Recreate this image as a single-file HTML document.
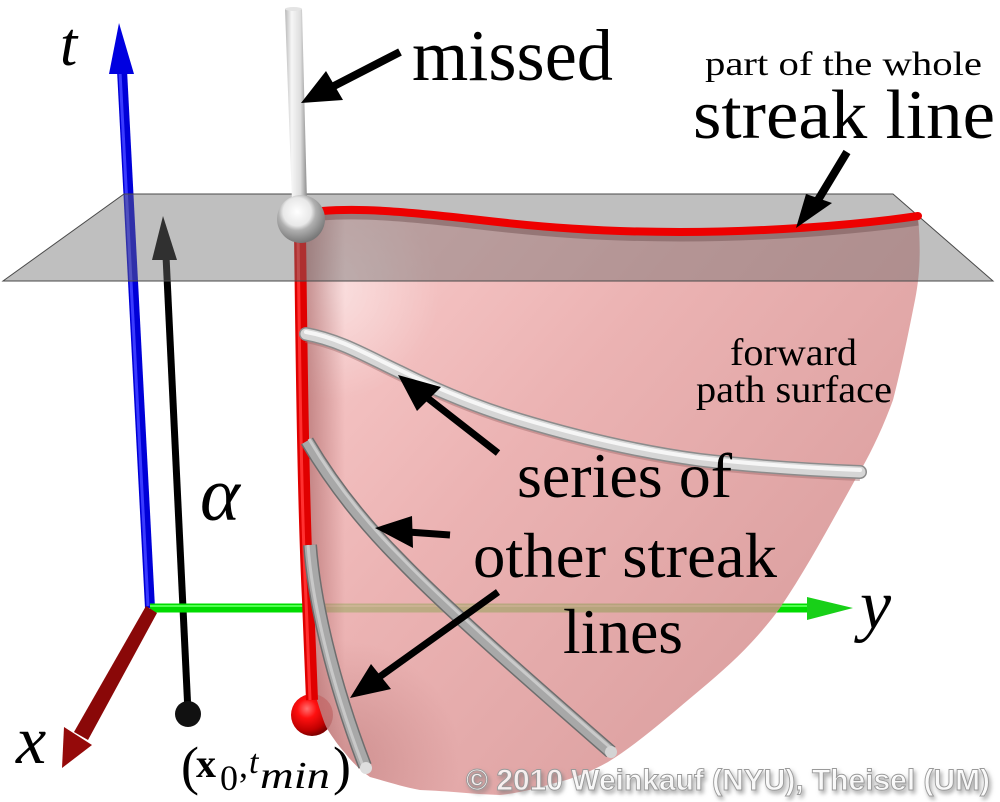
<!DOCTYPE html>
<html><head><meta charset="utf-8">
<style>
html,body{margin:0;padding:0;background:#fff;}
svg{display:block;}
</style></head><body>
<svg width="1000" height="802" viewBox="0 0 1000 802" xmlns="http://www.w3.org/2000/svg">
<defs>
 <linearGradient id="surf" x1="310" y1="220" x2="820" y2="660" gradientUnits="userSpaceOnUse">
  <stop offset="0" stop-color="#f8c0c0"/>
  <stop offset="0.45" stop-color="#e7a2a2"/>
  <stop offset="1" stop-color="#d38a8a"/>
 </linearGradient>
 <radialGradient id="hl" cx="330" cy="290" r="110" gradientUnits="userSpaceOnUse">
  <stop offset="0" stop-color="#fff" stop-opacity="0.45"/>
  <stop offset="1" stop-color="#fff" stop-opacity="0"/>
 </radialGradient>
 <radialGradient id="dk" cx="340" cy="760" r="120" gradientUnits="userSpaceOnUse">
  <stop offset="0" stop-color="#a05858" stop-opacity="0.35"/>
  <stop offset="1" stop-color="#a05858" stop-opacity="0"/>
 </radialGradient>
 <linearGradient id="leftsh" x1="306" y1="0" x2="345" y2="0" gradientUnits="userSpaceOnUse">
  <stop offset="0" stop-color="#9a5050" stop-opacity="0.55"/>
  <stop offset="1" stop-color="#9a5050" stop-opacity="0"/>
 </linearGradient>
 <clipPath id="sc">
  <path d="M300,214 L322,211 C360,208 400,211 480,220 C540,227 600,232 680,232 C760,232 850,226 918,216 C921,250 920,275 915,300 C908,335 902,365 893,400 C882,430 870,455 855,480 C830,525 807,568 780,608 C755,642 730,665 700,690 C670,715 640,742 608,762 C590,772 572,779 555,783 C535,789 518,793 500,795 C470,794 450,791 420,790 C400,786 385,781 370,777 C360,770 352,762 345,753 C338,745 333,738 328,730 C322,720 318,700 313,690 L302,240 Z"/>
 </clipPath>
 <linearGradient id="stick" x1="0" y1="0" x2="1" y2="0">
  <stop offset="0" stop-color="#b8b8b8"/>
  <stop offset="0.3" stop-color="#f6f6f6"/>
  <stop offset="0.7" stop-color="#dedede"/>
  <stop offset="1" stop-color="#8c8c8c"/>
 </linearGradient>
 <radialGradient id="sph" cx="0.42" cy="0.35" r="0.65">
  <stop offset="0" stop-color="#ffffff"/>
  <stop offset="0.45" stop-color="#e8e8e8"/>
  <stop offset="0.6" stop-color="#b0b0b0"/>
  <stop offset="1" stop-color="#777"/>
 </radialGradient>
 <radialGradient id="rball" cx="0.38" cy="0.35" r="0.65">
  <stop offset="0" stop-color="#ff7070"/>
  <stop offset="0.35" stop-color="#ff1010"/>
  <stop offset="0.8" stop-color="#c00000"/>
  <stop offset="1" stop-color="#800000"/>
 </radialGradient>
 <filter id="shd" x="-5%" y="-30%" width="110%" height="160%">
  <feGaussianBlur in="SourceAlpha" stdDeviation="2"/>
  <feOffset dx="2" dy="3" result="b"/>
  <feFlood flood-color="#777" flood-opacity="0.7"/>
  <feComposite in2="b" operator="in"/>
  <feMerge><feMergeNode/><feMergeNode in="SourceGraphic"/></feMerge>
 </filter>
</defs>

<!-- blue t axis -->
<line x1="122" y1="70" x2="150" y2="608" stroke="#0000d8" stroke-width="10"/>
<line x1="120" y1="72" x2="148" y2="606" stroke="#3a3aff" stroke-width="3"/>
<polygon points="119,23 109,74 134,74" fill="#0000e0"/>

<!-- black alpha arrow -->
<line x1="166" y1="256" x2="188" y2="712" stroke="#000" stroke-width="7"/>
<polygon points="163,216 152,260 177,260" fill="#000"/>
<circle cx="188" cy="714" r="13" fill="#111"/>

<!-- green y axis -->
<line x1="150" y1="608" x2="810" y2="608" stroke="#00dc00" stroke-width="9"/>
<line x1="150" y1="606" x2="810" y2="606" stroke="#50ff50" stroke-width="2"/>
<polygon points="807,597 853,608 807,620" fill="#18d018"/>

<!-- dark red x axis -->
<polygon points="146,606 157,613 88,740 74,732" fill="#8a0808"/>
<polygon points="64,727 92,745 62,768" fill="#950a0a"/>

<!-- red ball -->
<circle cx="312" cy="715" r="21" fill="url(#rball)"/>

<!-- surface -->
<g clip-path="url(#sc)">
 <rect x="290" y="200" width="650" height="610" fill="url(#surf)" fill-opacity="0.82"/>
 <rect x="290" y="200" width="650" height="610" fill="url(#hl)"/>
 <rect x="290" y="200" width="650" height="610" fill="url(#dk)"/>
 <rect x="290" y="200" width="60" height="610" fill="url(#leftsh)"/>
</g>

<!-- red vertical streak -->
<path d="M300,232 C302,400 304,520 308,600 C310,650 311,680 312,700" stroke="#e00000" stroke-width="12" fill="none"/>
<path d="M298,232 C300,400 302,520 306,600 C308,650 309,680 310,700" stroke="#ff3030" stroke-width="3" fill="none"/>

<!-- tubes -->
<path d="M306,338 C340,344 370,362 400,376 C440,396 480,412 520,424 C580,442 640,456 700,464 C760,471 810,474 860,476" stroke="#a06a6a" stroke-opacity="0.45" stroke-width="10" fill="none"/>
<path d="M306,334 C340,340 370,358 400,372 C440,392 480,408 520,420 C580,438 640,452 700,460 C760,467 810,470 860,472" stroke="#8c8c8c" stroke-width="14" stroke-linecap="round" fill="none"/>
<path d="M306,334 C340,340 370,358 400,372 C440,392 480,408 520,420 C580,438 640,452 700,460 C760,467 810,470 860,472" stroke="#d6d6d6" stroke-width="11" stroke-linecap="round" fill="none"/>
<path d="M306,332 C340,338 370,356 400,370 C440,390 480,406 520,418 C580,436 640,450 700,458 C760,465 810,468 860,470" stroke="#f6f6f6" stroke-width="4" stroke-linecap="round" fill="none"/>

<path d="M307,441 C330,480 360,520 400,560 C450,612 540,690 611,752" stroke="#6e6e6e" stroke-width="14" fill="none"/>
<path d="M307,441 C330,480 360,520 400,560 C450,612 540,690 611,752" stroke="#a8a8a8" stroke-width="11" fill="none"/>
<path d="M309,439 C332,478 362,518 402,558 C452,610 542,688 613,750" stroke="#cacaca" stroke-width="3" fill="none"/>
<circle cx="611" cy="752" r="6" fill="#d4d4d4"/>

<path d="M310,545 C314,600 332,680 365,766" stroke="#6e6e6e" stroke-width="14" fill="none"/>
<path d="M310,545 C314,600 332,680 365,766" stroke="#a8a8a8" stroke-width="11" fill="none"/>
<path d="M308,545 C312,600 330,680 363,766" stroke="#c8c8c8" stroke-width="3" fill="none"/>
<circle cx="366" cy="768" r="6" fill="#dedede"/>

<!-- streak line shadow -->
<path d="M322,216 C360,213 400,216 480,225 C540,232 600,237 680,237 C760,237 850,231 918,221" stroke="#7a4040" stroke-opacity="0.5" stroke-width="9" fill="none"/>

<!-- plane -->
<polygon points="124,194 893,194 993,281 3,281" fill="#6e6e6e" fill-opacity="0.44" stroke="#4a4a4a" stroke-width="1"/>

<!-- top red streak line -->
<path d="M322,211 C360,208 400,211 480,220 C540,227 600,232 680,232 C760,232 850,226 918,216" stroke="#ee0000" stroke-width="8" stroke-linecap="round" fill="none"/>

<!-- stick and sphere -->
<polygon points="285,9 302,9 307,202 292,202" fill="url(#stick)"/>
<ellipse cx="293.5" cy="9" rx="8.5" ry="2" fill="#e4e4e4"/>
<circle cx="301" cy="219" r="24" fill="url(#sph)"/>

<!-- arrows -->
<g fill="#000" stroke="#000">
 <line x1="400" y1="52" x2="332" y2="87" stroke-width="8"/>
 <polygon points="301,103 326,71 343,100" stroke="none"/>
 <line x1="847" y1="152" x2="818" y2="200" stroke-width="8"/>
 <polygon points="796,228 806,194 832,203" stroke="none"/>
 <line x1="498" y1="453" x2="425" y2="396" stroke-width="7"/>
 <polygon points="398,375 417,411 441,387" stroke="none"/>
 <line x1="450" y1="535" x2="408" y2="532" stroke-width="7"/>
 <polygon points="375,528 412,516 413,548" stroke="none"/>
 <line x1="498" y1="592" x2="378" y2="678" stroke-width="7"/>
 <polygon points="350,698 371,664 391,689" stroke="none"/>
</g>

<!-- labels -->
<g font-family="'Liberation Serif', serif" fill="#000">
 <text x="60" y="65" font-style="italic" font-size="62">t</text>
 <text x="16" y="763" font-style="italic" font-size="68">x</text>
 <text x="860" y="628" font-style="italic" font-size="70">y</text>
 <text x="200" y="520" font-style="italic" font-size="76">α</text>
 <text x="412" y="80" font-size="73" textLength="201" lengthAdjust="spacingAndGlyphs">missed</text>
 <text x="705" y="75" font-size="34" textLength="277" lengthAdjust="spacingAndGlyphs">part of the whole</text>
 <text x="693" y="138" font-size="70" textLength="302" lengthAdjust="spacingAndGlyphs">streak line</text>
 <text x="730" y="365" font-size="38" textLength="127" lengthAdjust="spacingAndGlyphs">forward</text>
 <text x="696" y="402" font-size="38" textLength="196" lengthAdjust="spacingAndGlyphs">path surface</text>
 <text x="517" y="497" font-size="64" textLength="215" lengthAdjust="spacingAndGlyphs">series of</text>
 <text x="473" y="577" font-size="64" textLength="304" lengthAdjust="spacingAndGlyphs">other streak</text>
 <text x="563" y="653" font-size="64" textLength="120" lengthAdjust="spacingAndGlyphs">lines</text>
 <text x="181" y="784" font-size="54">(</text>
 <text x="196" y="777" font-size="40" font-weight="bold">x</text>
 <text x="220" y="790" font-size="36">0</text>
 <text x="239" y="777" font-size="36">,</text>
 <text x="249" y="773" font-size="34" font-style="italic">t</text>
 <text x="260" y="788" font-size="38" font-style="italic" textLength="70" lengthAdjust="spacingAndGlyphs">min</text>
 <text x="333" y="784" font-size="54">)</text>
</g>

<!-- copyright -->
<text x="466" y="790" font-family="'Liberation Sans', sans-serif" font-weight="bold" font-size="30" textLength="524" lengthAdjust="spacingAndGlyphs" fill="#ffffff" fill-opacity="0.82" stroke="#9a9a9a" stroke-width="0.9" filter="url(#shd)">© 2010 Weinkauf (NYU), Theisel (UM)</text>
</svg>
</body></html>
